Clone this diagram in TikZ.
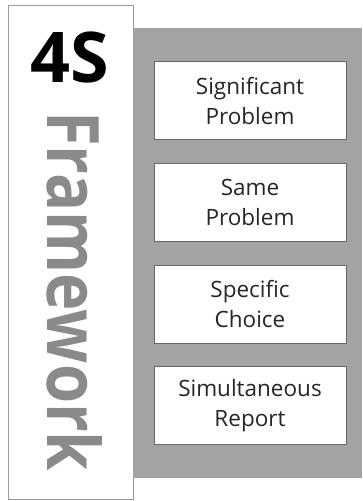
\documentclass[tikz,border=0pt]{standalone}
\usepackage{fontspec}
\setmainfont{Open Sans}
\definecolor{bgray}{HTML}{A3A3A3}
\definecolor{fgray}{HTML}{8A8A8A}
\definecolor{lgray}{HTML}{9A9A9A}
\tikzset{
  itembox/.style={draw=gray!80!black, line width=0.8pt, fill=white, minimum width=192pt, minimum height=78pt, inner sep=0pt, align=center, text=black!85, font=\fontsize{22.5}{30}\selectfont},
}
\begin{document}
\begin{tikzpicture}[x=1pt,y=-1pt]
\useasboundingbox (0,0) rectangle (362,501);
\fill[white] (0,0) rectangle (362,501);
\node[draw=lgray, line width=0.8pt, fill=white, minimum width=125pt, minimum height=494pt, inner sep=0pt] (left) at (70.5,252) {};
\fill[bgray] (133,28) rectangle (362,478);
\node[itembox] (s1) at (250,100.5) {Significant\\Problem};
\node[itembox] (s2) at (250,202) {Same\\Problem};
\node[itembox] (s3) at (250,304) {Specific\\Choice};
\node[itembox] (s4) at (250,405.5) {Simultaneous\\Report};
\node[anchor=base, inner sep=0pt, font=\fontsize{70}{70}\selectfont\bfseries] (t4s) at (70,82) {4S};
\node[anchor=base west, inner sep=0pt, rotate=-90, text=fgray, font=\fontsize{71}{71}\selectfont\bfseries] (tfw) at (47,111) {\resizebox{360pt}{55pt}{Framework}};
\end{tikzpicture}
\end{document}
